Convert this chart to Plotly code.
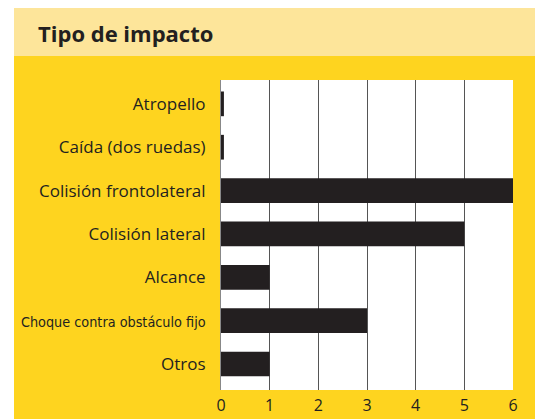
import plotly.graph_objects as go

# Impact types and counts
categories = [
    "Atropello",
    "Caída (dos ruedas)",
    "Colisión frontolateral",
    "Colisión lateral",
    "Alcance",
    "Choque contra obstáculo fijo",
    "Otros",
]
values = [0.06, 0.06, 6, 5, 1, 3, 1]
x_ticks = [0, 1, 2, 3, 4, 5, 6]
title_text = "Tipo de impacto"

W, H = 535, 419
L, R, T, B = 221, 513, 80, 390  # plot area in pixels

DARK = "#231F20"
YELLOW = "#FED41F"
PALE = "#FDE59A"
FONT = "Open Sans, Noto Sans, sans-serif"
NARROW = "DejaVu Sans Condensed, Liberation Sans Narrow, sans-serif"


def px_x(p):
    return (p - L) / (R - L)


def px_y(p):
    return (B - p) / (B - T)


# y tick labels; the long one is set in a condensed face
tick_text = []
for c in categories:
    if c.startswith("Choque"):
        tick_text.append(f'<span style="font-family:{NARROW};font-size:14.3px">{c}</span>')
    else:
        tick_text.append(c)

fig = go.Figure(
    go.Bar(
        x=values,
        y=categories,
        orientation="h",
        marker=dict(color=DARK, line=dict(width=0)),
        width=0.57,
    )
)

fig.update_layout(
    width=W,
    height=H,
    margin=dict(l=L, r=W - R, t=T, b=H - B, pad=0, autoexpand=False),
    paper_bgcolor=YELLOW,
    plot_bgcolor="white",
    showlegend=False,
    font=dict(family=FONT, color=DARK, size=16),
    shapes=[
        # white strip above the panel
        dict(type="rect", xref="paper", yref="paper", x0=px_x(0), x1=px_x(W),
             y0=px_y(0), y1=px_y(8), fillcolor="white", line=dict(width=0), layer="above"),
        # white strip left of the panel
        dict(type="rect", xref="paper", yref="paper", x0=px_x(0), x1=px_x(14),
             y0=px_y(0), y1=px_y(H), fillcolor="white", line=dict(width=0), layer="above"),
        # title band
        dict(type="rect", xref="paper", yref="paper", x0=px_x(14), x1=px_x(W),
             y0=px_y(8), y1=px_y(56), fillcolor=PALE, line=dict(width=0), layer="above"),
    ],
    annotations=[
        dict(text=f"<b>{title_text}</b>", xref="paper", yref="paper",
             x=px_x(36), y=px_y(33), xanchor="left", yanchor="middle",
             showarrow=False, font=dict(size=22, color=DARK, family=FONT)),
    ],
)

fig.update_xaxes(
    range=[0, 6],
    tickvals=x_ticks,
    ticktext=[str(v) for v in x_ticks],
    showgrid=True,
    gridcolor="#555555",
    gridwidth=1,
    zeroline=False,
    showline=False,
    ticks="",
    ticklabelstandoff=4,
    tickfont=dict(size=16, color=DARK),
    automargin=False,
    fixedrange=True,
)
fig.update_yaxes(
    categoryorder="array",
    categoryarray=categories[::-1],
    tickvals=categories,
    ticktext=tick_text,
    range=[-0.6, 6.55],
    showgrid=False,
    zeroline=False,
    showline=True,
    linecolor="#888888",
    linewidth=1,
    ticks="",
    ticklabelstandoff=11,
    tickfont=dict(size=17, color=DARK),
    automargin=False,
    fixedrange=True,
)

fig.write_html("out.html")
